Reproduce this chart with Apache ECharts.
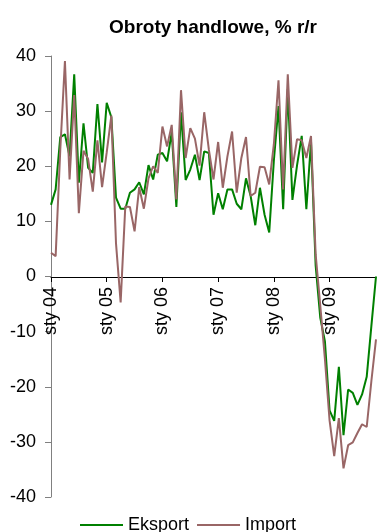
<!DOCTYPE html>
<html>
<head>
<meta charset="utf-8">
<script src="https://cdn.jsdelivr.net/npm/echarts@6/dist/echarts.min.js"></script>
<style>html,body{margin:0;padding:0;background:#fff}#c{width:377px;height:532px}</style>
</head>
<body>
<div id="c"></div>
<script>
var monthNames = ['sty','lut','mar','kwi','maj','cze','lip','sie','wrz','paź','lis','gru'];
var years = ['04','05','06','07','08','09'];
var categories = [];
years.forEach(function(y){ monthNames.forEach(function(m){ categories.push(m + ' ' + y); }); });
categories = categories.slice(0, 71);

var eksport = [13.0,15.8,25.3,25.8,21.8,36.7,17.0,27.8,19.7,18.8,31.3,20.7,
  31.5,28.9,14.3,12.3,12.3,15.2,15.8,17.1,14.9,20.2,17.6,22.1,
  22.4,20.9,26.2,12.6,29.8,17.5,19.4,22.1,17.5,22.7,22.4,11.2,
  15.1,12.2,15.8,15.8,13.2,12.2,17.8,14.6,9.3,16.1,11.2,8.0,
  21.0,30.9,12.2,34.0,13.9,20.2,25.5,12.2,24.5,2.0,-7.5,-11.8,
  -24.3,-26.2,-16.4,-28.8,-20.5,-21.1,-23.3,-21.4,-18.2,-9.0,0.0];
var importData = [4.3,3.7,23.0,39.1,17.6,32.9,11.5,22.8,21.3,15.4,24.7,16.2,
  22.5,29.2,6.0,-4.7,12.7,12.6,8.2,16.2,12.3,17.8,20.0,18.8,
  27.2,23.6,27.5,14.0,33.8,21.5,26.9,25.0,20.1,29.8,23.0,17.6,
  24.4,16.1,21.8,26.3,15.2,21.5,25.3,14.6,15.2,19.9,19.8,16.7,
  24.0,35.6,15.8,36.7,19.7,24.9,24.7,21.5,25.5,4.0,-5.3,-15.0,
  -26.1,-32.6,-25.7,-34.8,-30.6,-30.1,-28.4,-26.8,-27.3,-19.0,-11.4];
var seriesNames = ['Eksport','Import'];
var titleText = 'Obroty handlowe, % r/r';

var font = 'Liberation Sans, Arial, sans-serif';
var chart = echarts.init(document.getElementById('c'), null, {renderer:'canvas'});
chart.setOption({
  animation: false,
  backgroundColor: '#fff',
  title: {
    text: titleText, left: 208, top: 13, textAlign: 'center',
    textStyle: {fontFamily: font, fontSize: 19, fontWeight: 'bold', color: '#000'}
  },
  legend: {
    data: seriesNames, top: 511, left: 75,
    icon: 'rect', itemWidth: 43, itemHeight: 2, itemGap: 8,
    textStyle: {fontFamily: font, fontSize: 18, color: '#000'}
  },
  grid: {left: 51, right: 1, top: 56, bottom: 35, containLabel: false, outerBoundsMode: 'none'},
  xAxis: {
    type: 'category', data: categories, boundaryGap: false,
    offset: -220,
    axisLine: {onZero: false, lineStyle: {color: '#000', width: 1}},
    axisTick: {show: true, interval: 11, length: 5, lineStyle: {color: '#000'}},
    axisLabel: {interval: 11, rotate: 90, margin: 10, fontFamily: font, fontSize: 18, color: '#000'},
    splitLine: {show: false}
  },
  yAxis: {
    type: 'value', min: -40, max: 40, interval: 10,
    axisLine: {show: true, lineStyle: {color: '#808080', width: 1}},
    axisTick: {show: true, length: 6, lineStyle: {color: '#808080'}},
    axisLabel: {margin: 15, fontFamily: font, fontSize: 18, color: '#000'},
    splitLine: {show: false}
  },
  series: [
    {name: seriesNames[0], type: 'line', data: eksport, showSymbol: false, symbol: 'none',
     lineStyle: {color: '#008000', width: 2}, itemStyle: {color: '#008000'}},
    {name: seriesNames[1], type: 'line', data: importData, showSymbol: false, symbol: 'none',
     lineStyle: {color: '#996666', width: 2}, itemStyle: {color: '#996666'}}
  ]
});
</script>
</body>
</html>
